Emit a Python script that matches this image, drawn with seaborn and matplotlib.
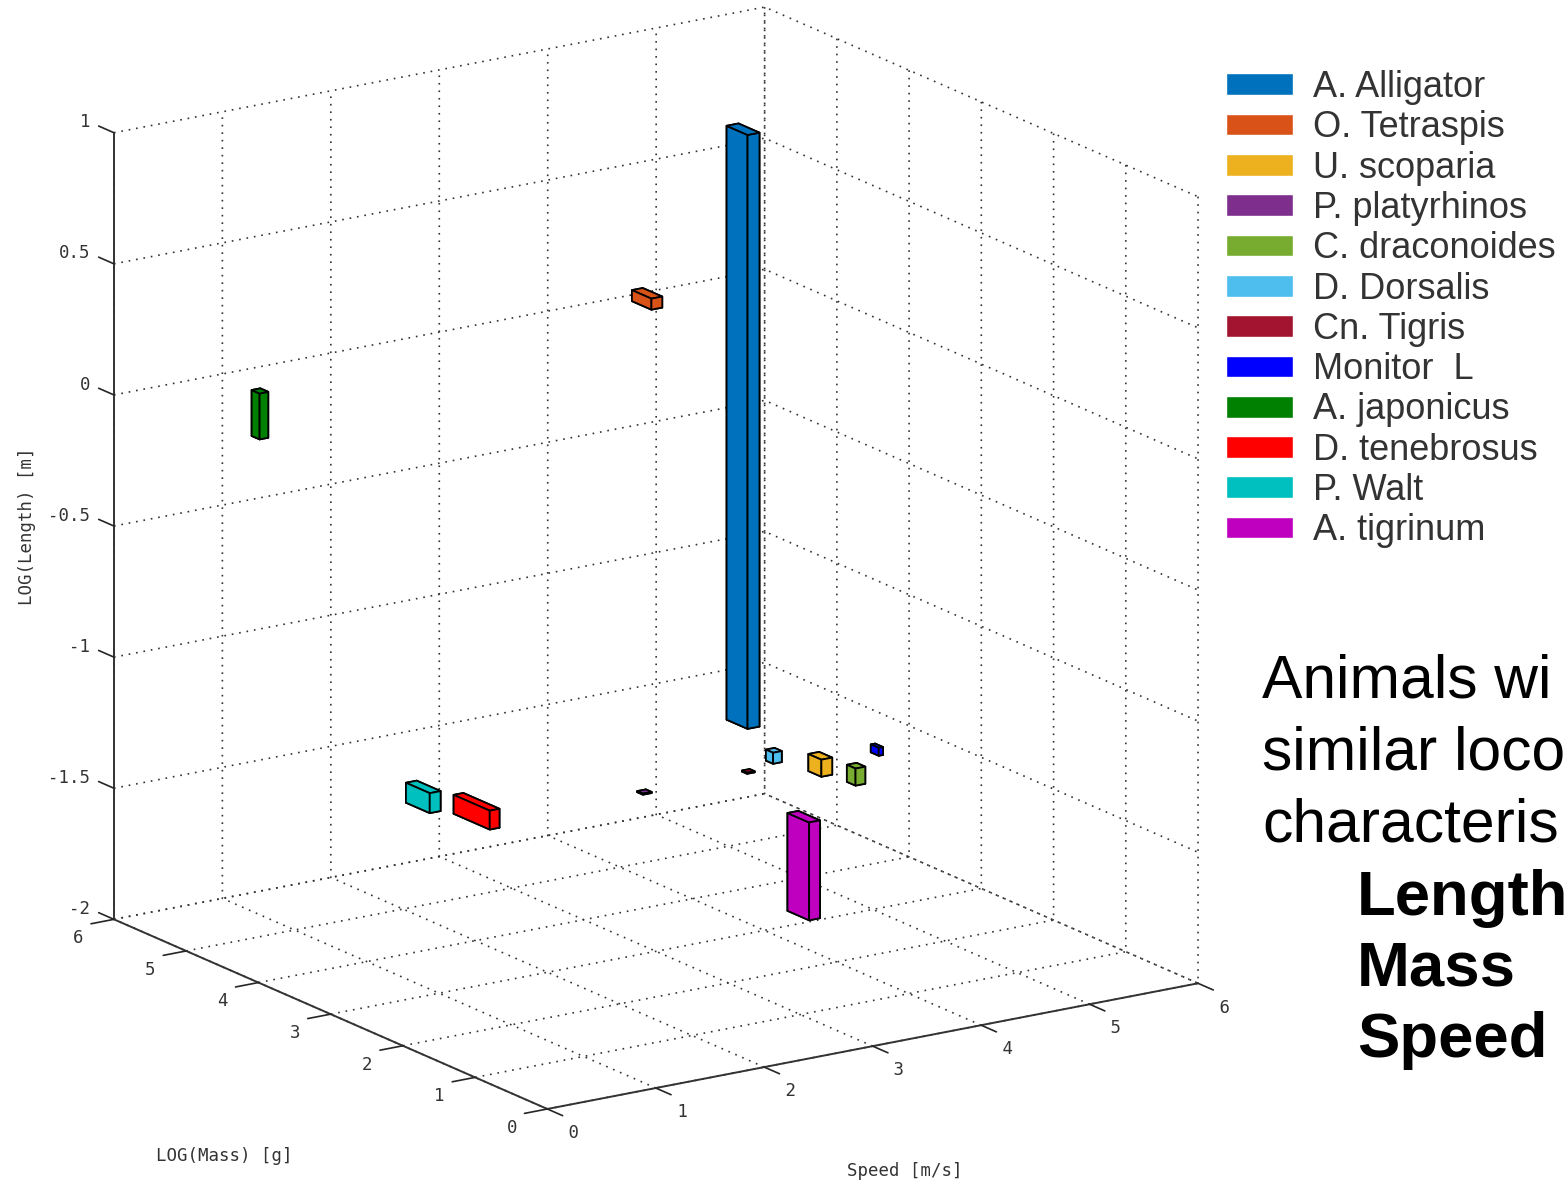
"""
bar chart in 3d of animal length, mass and speed
"""

import matplotlib
matplotlib.use("Agg")
import matplotlib.pyplot as plt
from matplotlib.patches import Patch
import seaborn as sns

W, H = 1567, 1183

species = ["A. Alligator", "O. Tetraspis", "U. scoparia", "P. platyrhinos",
           "C. draconoides", "D. Dorsalis", "Cn. Tigris", "Monitor  L",
           "A. japonicus", "D. tenebrosus", "P. Walt", "A. tigrinum"]
colors = ["#0072BD", "#D95319", "#EDB120", "#7E2F8E", "#77AC30", "#4DBEEE",
          "#A2142F", "#0000FF", "#008000", "#FF0000", "#00BFBF", "#BF00BF"]

# depth along the view is a guess
speed = [4.91, 4.29, 4.525, 2.88, 4.84, 4.08, 3.84, 5.72, 1.01, 1.80, 1.58, 3.08]
mass = [4.6, 5.0, 3.0, 3.0, 3.0, 3.0, 3.0, 4.0, 5.5, 3.5, 4.0, 1.0]
length_base = [-1.497, 0.103, -1.456, -1.393, -1.515, -1.371, -1.39, -1.592,
               -0.19, -1.50, -1.48, -1.647]
length_span = [2.265, 0.042, 0.065, 0.004, 0.065, 0.042, 0.004, 0.03, 0.175,
               0.072, 0.076, 0.373]
speed_width = [0.11, 0.10, 0.10, 0.08, 0.09, 0.08, 0.07, 0.04, 0.08, 0.09, 0.10, 0.10]
mass_width = [0.29, 0.27, 0.18, 0.08, 0.12, 0.10, 0.07, 0.11, 0.11, 0.50, 0.33, 0.30]

speed_ticks = [0, 1, 2, 3, 4, 5, 6]
mass_ticks = [0, 1, 2, 3, 4, 5, 6]
length_ticks = [-2, -1.5, -1, -0.5, 0, 0.5, 1]
speed_tick_labels = [" 0", " 1", " 2", " 3", " 4", " 5", " 6"]
mass_tick_labels = ["0 ", "1 ", "2 ", "3 ", "4 ", "5 ", "6 "]
length_tick_labels = ["-2", "-1.5", "-1", "-0.5", "0", "0.5", "1"]

sns.set_theme(style="white")
plt.rcParams["font.family"] = ["Liberation Sans", "DejaVu Sans"]
plt.rcParams["xtick.bottom"] = True
palette = sns.color_palette(colors)

fig = plt.figure(figsize=(W / 100, H / 100), dpi=100)

# square axes around the middle of the box
side = 1183
cx, cy = 640, 574
ax = fig.add_axes([(cx - side / 2) / W, 1 - (cy + side / 2) / H, side / W, side / H],
                  projection="3d", proj_type="ortho")
ax.view_init(elev=16.9, azim=-123.6)
ax.set_box_aspect((783, 785, 824), zoom=1.131)

for i in range(len(species)):
    ax.bar3d(speed[i], mass[i], length_base[i], speed_width[i], mass_width[i],
             length_span[i], color=palette[i], shade=False,
             edgecolor="black", linewidth=1.3)

ax.set_xlim(0, 6, view_margin=0)
ax.set_ylim(0, 6, view_margin=0)
ax.set_zlim(-2, 1, view_margin=0)
ax.set_xticks(speed_ticks)
ax.set_yticks(mass_ticks)
ax.set_zticks(length_ticks)
ax.set_xticklabels(speed_tick_labels)
ax.set_yticklabels(mass_tick_labels)
ax.set_zticklabels(length_tick_labels)

for axis in (ax.xaxis, ax.yaxis, ax.zaxis):
    axis.set_pane_color((1, 1, 1, 0))
    axis.pane.set_edgecolor("none")
    axis.line.set_color("#333333")
    axis.line.set_linewidth(1.4)
    axis._axinfo["grid"].update(color="#333333", linestyle=(0, (1, 3.5)), linewidth=1.2)
    # ticks point away from the box
    axis._axinfo["tick"]["outward_factor"] = 0.0
    axis._axinfo["tick"]["inward_factor"] = 0.44
    axis._axinfo["tick"]["linewidth"] = {True: 1.2, False: 1.0}
    axis._axinfo["tick"]["color"] = "#333333"
    for lab in axis.get_ticklabels():
        lab.set_fontfamily("DejaVu Sans Mono")
        lab.set_fontsize(12.5)
        lab.set_color("#333333")

# length ticks run along the mass direction, up and to the left
ax.zaxis._get_tickdir = lambda position: 1
ax.zaxis._axinfo["tick"]["outward_factor"] = 0.44
ax.zaxis._axinfo["tick"]["inward_factor"] = 0.0

# tick label placement for each axis
ax.xaxis.set_tick_params(pad=3)
ax.yaxis.set_tick_params(pad=5.5)
ax.zaxis.set_tick_params(pad=1.6)
for lab in ax.xaxis.get_ticklabels():
    lab.set_ha("left")
    lab.set_va("center")
for lab in ax.yaxis.get_ticklabels():
    lab.set_ha("right")
    lab.set_va("bottom")
for lab in ax.zaxis.get_ticklabels():
    lab.set_ha("right")
    lab.set_va("bottom")

label_font = dict(family="DejaVu Sans Mono", fontsize=12.5, color="#333333")
fig.text(224 / W, 1 - 1156 / H, "LOG(Mass) [g]", ha="center", va="center", **label_font)
fig.text(905 / W, 1 - 1171 / H, "Speed [m/s]", ha="center", va="center", **label_font)
fig.text(27 / W, 1 - 526 / H, "LOG(Length) [m]", ha="center", va="center",
         rotation=90, **label_font)

handles = [Patch(facecolor=palette[i], label=species[i]) for i in range(len(species))]
fig.legend(handles=handles, loc="upper left", bbox_to_anchor=(1226 / W, 1 - 70 / H),
           bbox_transform=fig.transFigure, frameon=False, fontsize=26,
           labelcolor="#333333", handlelength=1.86, handleheight=0.55,
           handletextpad=0.55, labelspacing=0.147, borderpad=0, borderaxespad=0)

# the text runs off the right edge in the picture, only the visible part is kept
plain_lines = ["Animals wi", "similar loco", "characteris"]
plain_y = [698, 770, 842]
bold_lines = ["Length", "Mass", "Speed"]
bold_y = [915, 986, 1057]
for txt, y in zip(plain_lines, plain_y):
    fig.text(1262 / W, 1 - y / H, txt, fontsize=43.6, color="black", va="baseline")
for txt, y in zip(bold_lines, bold_y):
    fig.text(1357 / W, 1 - y / H, txt, fontsize=45.7, color="black", va="baseline",
             fontweight="bold")

fig.savefig("out.png", dpi=100)
plt.close(fig)
